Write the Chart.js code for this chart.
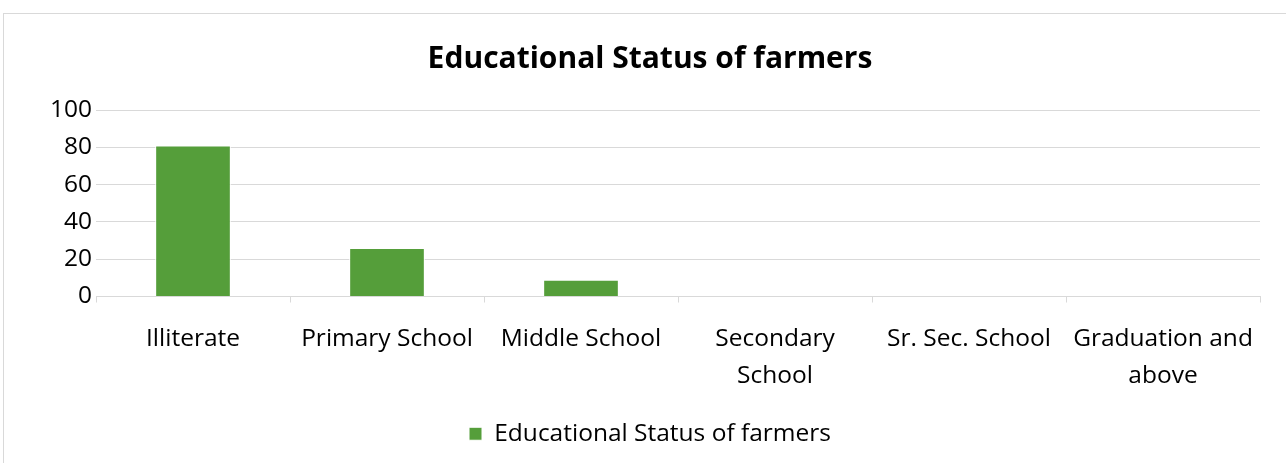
<!DOCTYPE html>
<html>
<head>
<meta charset="utf-8">
<title>Educational Status of farmers</title>
<script src="https://cdn.jsdelivr.net/npm/chart.js@4.4.0/dist/chart.umd.min.js"></script>
<style>
  html, body { margin: 0; padding: 0; background: #fff; overflow: hidden; }
  #frame {
    position: absolute; left: 3px; top: 13px;
    width: 1300px; height: 500px;
    border: 1px solid #d9d9d9;
  }
  #wrap { position: absolute; left: 0; top: 0; width: 1286px; height: 463px; }
</style>
</head>
<body>
<div id="frame"></div>
<div id="wrap"><canvas id="myChart" width="1286" height="463"></canvas></div>
<script>
const categories = [
  "Illiterate",
  "Primary School",
  "Middle School",
  ["Secondary", "School"],
  "Sr. Sec. School",
  ["Graduation and", "above"]
];
const farmers = [81, 26, 9, 0, 0, 0];
const yTicks = [0, 20, 40, 60, 80, 100];

const FONT = "'Open Sans', 'Noto Sans', sans-serif";
const GREY = "#d9d9d9";

window.addEventListener("load", function(){
  init();
});

function init(){
  const ctx = document.getElementById('myChart').getContext('2d');
  new Chart(ctx, {
    type: 'bar',
    data: {
      labels: categories,
      datasets: [{
        label: 'Educational Status of farmers',
        data: farmers,
        backgroundColor: '#559e3a',
        borderColor: '#ffffff',
        borderWidth: 1,
        categoryPercentage: 1,
        barPercentage: 0.39
      }]
    },
    options: {
      responsive: false,
      animation: false,
      events: [],
      // left padding keeps title and legend centred on the frame
      layout: { padding: { left: 40, right: 26, top: 0, bottom: 7 } },
      plugins: {
        title: {
          display: true,
          text: 'Educational Status of farmers',
          color: '#000',
          font: { family: FONT, size: 30, weight: 'bold' },
          padding: { top: 41, bottom: 33 }
        },
        legend: {
          position: 'bottom',
          labels: {
            color: '#000',
            font: { family: FONT, size: 24.5 },
            boxWidth: 13,
            boxHeight: 13,
            padding: 10
          }
        },
        tooltip: { enabled: false }
      },
      scales: {
        x: {
          grid: {
            color: GREY,
            lineWidth: 1,
            drawOnChartArea: false,
            drawTicks: true,
            tickLength: 6
          },
          border: { color: GREY, width: 1 },
          ticks: {
            color: '#000',
            font: { family: FONT, size: 24.5, lineHeight: 1.47 },
            padding: 19,
            maxRotation: 0,
            autoSkip: false
          },
          afterFit: function(scale){ scale.height = 115; }
        },
        y: {
          min: 0,
          max: 100,
          afterBuildTicks: function(scale){
            scale.ticks = yTicks.map(v => ({ value: v }));
          },
          grid: { color: GREY, lineWidth: 1, drawTicks: false },
          border: { display: false },
          ticks: {
            color: '#000',
            font: { family: FONT, size: 24.5 },
            padding: 4
          },
          afterFit: function(scale){ scale.width = 56; }
        }
      }
    }
  });
}
</script>
</body>
</html>
